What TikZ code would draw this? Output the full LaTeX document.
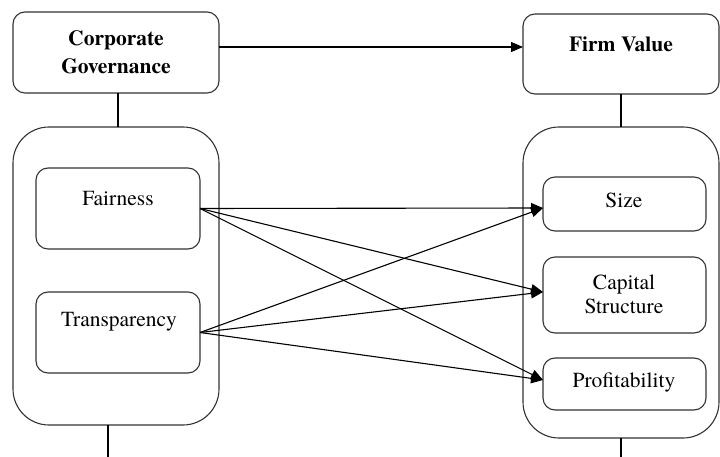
\documentclass[tikz,border=0pt]{standalone}
\usepackage{fontspec}
\setmainfont{texgyretermes}[Extension=.otf, UprightFont=*-regular, BoldFont=*-bold]
\usetikzlibrary{arrows.meta}
\begin{document}
\begin{tikzpicture}[x=1pt,y=-1pt,
  box/.style={draw=black!80, line width=1.1pt, rounded corners=12pt, inner sep=0pt, outer sep=0pt, anchor=north west},
  bigbox/.style={draw=black!80, line width=1.1pt, rounded corners=36pt, inner sep=0pt, outer sep=0pt, anchor=north west},
  lbl/.style={font=\fontsize{21.5}{27}\selectfont, align=center, inner sep=0pt},
  conn/.style={line width=1.1pt, -{Triangle[length=12pt,width=10pt]}},
  plainline/.style={line width=1.1pt}]
\useasboundingbox (0,0) rectangle (720,457);
\clip (0,0) rectangle (720,457);
% big containers
\node[bigbox, minimum width=206pt, minimum height=298pt] (lbig) at (13,127) {};
\node[bigbox, minimum width=196pt, minimum height=311pt] (rbig) at (523,127) {};
% top boxes
\node[box, minimum width=206pt, minimum height=81pt] (cg) at (13,12) {};
\node[box, minimum width=196pt, minimum height=80pt] (fv) at (523,14) {};
% inner boxes
\node[box, minimum width=164pt, minimum height=81pt] (fair) at (36,168) {};
\node[box, minimum width=164pt, minimum height=81pt] (trans) at (36,292) {};
\node[box, minimum width=163pt, minimum height=54pt] (size) at (543,177) {};
\node[box, minimum width=163pt, minimum height=76pt] (cap) at (543,257) {};
\node[box, minimum width=163pt, minimum height=52pt] (prof) at (543,358) {};
% labels
\node[lbl, font=\fontsize{21.5}{28}\selectfont\bfseries] (cgt) at (116,52) {Corporate\\Governance};
\node[lbl, font=\fontsize{21.5}{28}\selectfont\bfseries] (fvt) at (621,44) {Firm Value};
\node[lbl] (fairt) at (118,198) {Fairness};
\node[lbl] (transt) at (119,322) {Transparency};
\node[lbl] (sizet) at (624,200) {Size};
\node[lbl, font=\fontsize{21.5}{24}\selectfont] (capt) at (624,294) {Capital\\Structure};
\node[lbl] (proft) at (624,382) {Profitability};
% connectors
\draw[conn] ([yshift=5.5pt]cg.east) -- ([yshift=5.5pt]cg.east -| fv.west);
\draw[plainline] (cg.south -| 118,0) -- (lbig.north -| 118,0);
\draw[plainline] (fv.south) -- (rbig.north);
\coordinate (lend) at (108,460);
\coordinate (rend) at (621,460);
\draw[plainline] (lbig.south -| lend) -- (lend);
\draw[plainline] (rbig.south) -- (rend);
\draw[conn] (fair.east) -- ([yshift=-4pt]size.west);
\draw[conn] (fair.east) -- ([yshift=3pt]cap.west);
\draw[conn] (fair.east) -- ([yshift=4pt]prof.west);
\draw[conn] (trans.east) -- ([yshift=-4pt]size.west);
\draw[conn] (trans.east) -- ([yshift=3pt]cap.west);
\draw[conn] (trans.east) -- ([yshift=4pt]prof.west);
\end{tikzpicture}
\end{document}
